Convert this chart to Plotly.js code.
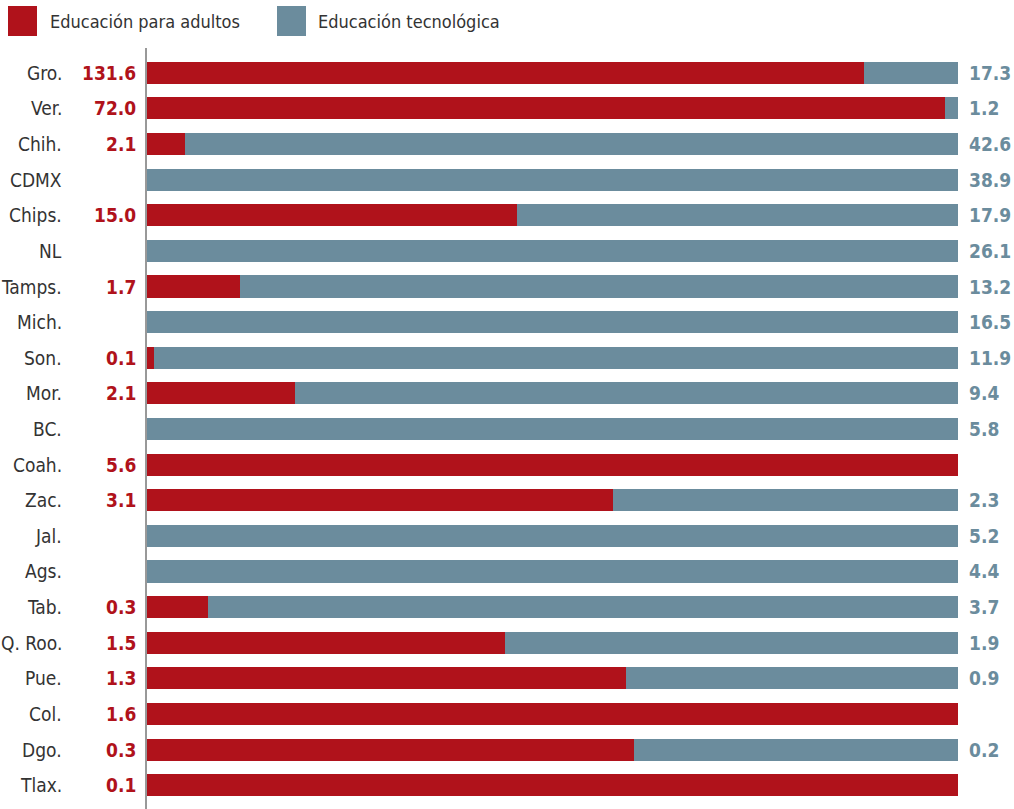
<!DOCTYPE html>
<html><head><meta charset="utf-8">
<script src="https://cdn.plot.ly/plotly-3.0.1.min.js"></script>
<style>body{margin:0;background:#fff}#c{width:1014px;height:809px}</style>
</head><body><div id="c"></div>
<script>
const states = ['Gro.','Ver.','Chih.','CDMX','Chips.','NL','Tamps.','Mich.','Son.','Mor.','BC.','Coah.','Zac.','Jal.','Ags.','Tab.','Q. Roo.','Pue.','Col.','Dgo.','Tlax.'];
const adultos = [131.6,72.0,2.1,null,15.0,null,1.7,null,0.1,2.1,null,5.6,3.1,null,null,0.3,1.5,1.3,1.6,0.3,0.1];
const tecnologica = [17.3,1.2,42.6,38.9,17.9,26.1,13.2,16.5,11.9,9.4,5.8,null,2.3,5.2,4.4,3.7,1.9,0.9,null,0.2,null];
const seriesNames = ['Educación para adultos','Educación tecnológica'];
const RED = '#b0121b', BLUE = '#6b8c9d';
const FONT = '"DejaVu Sans Condensed",Roboto,sans-serif';

const W = 1014, L = 147, R = 56;
const pw = W - L - R;
const px = p => (p - L) / pw;

const traces = [
  {type:'bar', orientation:'h', y:states, x:adultos, name:seriesNames[0], marker:{color:RED}, hoverinfo:'none'},
  {type:'bar', orientation:'h', y:states, x:tecnologica, name:seriesNames[1], marker:{color:BLUE}, hoverinfo:'none'}
];

const ann = [];
states.forEach((s,i)=>{
  ann.push({xref:'paper', yref:'y', x:px(64), y:s, text:s, showarrow:false, xanchor:'right',
    font:{family:FONT, size:19, color:'#333'}});
  if (adultos[i] !== null) ann.push({xref:'paper', yref:'y', x:px(138), y:s, text:'<b>'+adultos[i].toFixed(1)+'</b>',
    showarrow:false, xanchor:'right', font:{family:FONT, size:19, color:RED}});
  if (tecnologica[i] !== null) ann.push({xref:'paper', yref:'y', x:px(967), y:s, text:'<b>'+tecnologica[i].toFixed(1)+'</b>',
    showarrow:false, xanchor:'left', font:{family:FONT, size:19, color:BLUE}});
});
// legend
ann.push({xref:'paper', yref:'paper', x:px(48), y:1, yshift:34, text:seriesNames[0], showarrow:false, xanchor:'left', yanchor:'middle', font:{family:FONT,size:18,color:'#333'}});
ann.push({xref:'paper', yref:'paper', x:px(316), y:1, yshift:34, text:seriesNames[1], showarrow:false, xanchor:'left', yanchor:'middle', font:{family:FONT,size:18,color:'#333'}});

const T = 55, B = 6, H = 809;
const ph = H - T - B;
const py = p => 1 - (p - T) / ph;
const shapes = [
  {type:'rect', xref:'paper', yref:'paper', x0:px(8), x1:px(37), y0:py(36), y1:py(6), fillcolor:RED, line:{width:0}},
  {type:'rect', xref:'paper', yref:'paper', x0:px(277), x1:px(306), y0:py(36), y1:py(6), fillcolor:BLUE, line:{width:0}},
  {type:'line', xref:'paper', yref:'paper', x0:px(146), x1:px(146), y0:py(809), y1:py(48), line:{color:'#333', width:1}}
];

Plotly.newPlot('c', traces, {
  width:W, height:H, margin:{l:L, r:R, t:T, b:B},
  barmode:'stack', barnorm:'fraction', bargap:0.38, showlegend:false,
  paper_bgcolor:'#fff', plot_bgcolor:'#fff',
  xaxis:{range:[0,1], visible:false, fixedrange:true},
  yaxis:{autorange:'reversed', showticklabels:false, showgrid:false, zeroline:false, ticks:''},
  annotations:ann, shapes:shapes
}, {displayModeBar:false, staticPlot:true});
</script></body></html>
